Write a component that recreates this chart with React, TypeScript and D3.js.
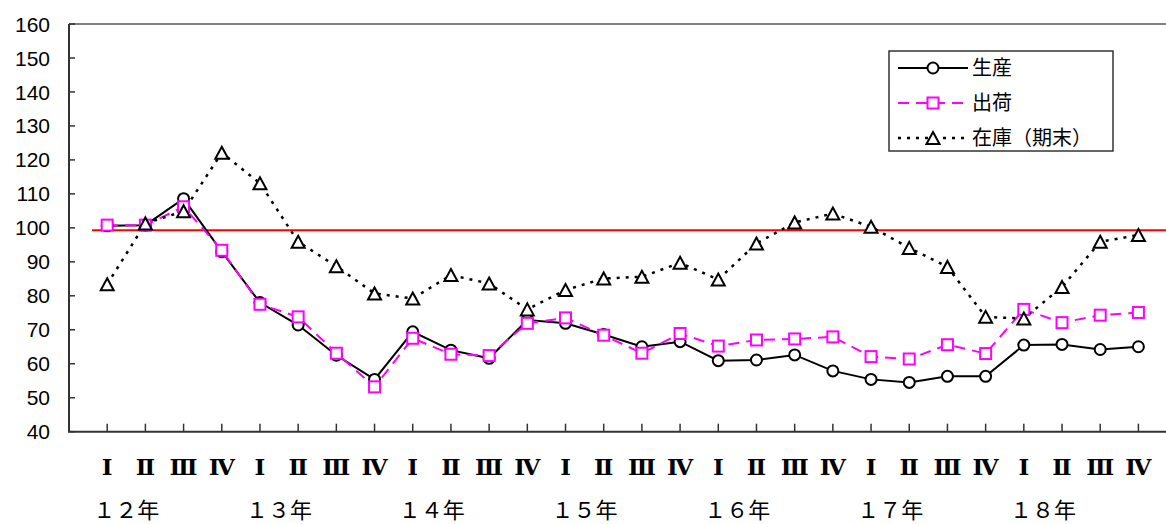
import React from "react";
import * as d3 from "d3";

const quarters = ["Ⅰ", "Ⅱ", "Ⅲ", "Ⅳ"];
const years = ["１２年", "１３年", "１４年", "１５年", "１６年", "１７年", "１８年"];
const categories: string[] = years.flatMap((y) => quarters.map((q) => y + q));

const production = [100.6, 100.8, 108.6, 93, 78, 71.4, 62.5, 55.4, 69.4, 64.0, 61.6, 72.9, 71.9, 68.6, 65.0, 66.5, 60.9, 61.1, 62.6, 57.9, 55.4, 54.5, 56.3, 56.3, 65.5, 65.7, 64.2, 65.0];
const shipments = [100.8, 100.8, 106.2, 93.4, 77.5, 73.8, 63.1, 53.2, 67.5, 62.8, 62.4, 71.9, 73.5, 68.4, 63.1, 68.9, 65.2, 67.0, 67.3, 67.9, 62.1, 61.4, 65.6, 63.0, 76.0, 72.1, 74.3, 75.1];
const inventory = [83.4, 101.3, 104.9, 122.1, 113.1, 95.9, 88.7, 80.7, 79.2, 86.1, 83.6, 76.0, 81.7, 85.1, 85.6, 89.7, 84.8, 95.4, 101.6, 104.2, 100.3, 94.1, 88.5, 73.8, 73.3, 82.6, 95.9, 97.9];
const yTicks = [40, 50, 60, 70, 80, 90, 100, 110, 120, 130, 140, 150, 160];
const referenceLine = 99.3;
const legendLabels = ["生産", "出荷", "在庫（期末）"];

const W = 1166;
const H = 524;
const left = 69;
const top = 24;
const bottom = 431.7;

const x = d3.scalePoint<number>().domain(d3.range(categories.length)).range([left, 1176.6]).padding(1);
const y = d3.scaleLinear().domain([40, 160]).range([bottom, top]);

const tri = "M0,-6L6.5,6L-6.5,6Z";

function Marker({ kind, cx, cy }: { kind: string; cx: number; cy: number }) {
  if (kind === "circle")
    return <circle cx={cx} cy={cy} r={5.5} fill="#fff" stroke="#000" strokeWidth={2} />;
  if (kind === "square")
    return <rect x={cx - 5.5} y={cy - 5.5} width={11} height={11} fill="#fff" stroke="#ff00ff" strokeWidth={2} />;
  return <path d={tri} transform={`translate(${cx},${cy})`} fill="#fff" stroke="#000" strokeWidth={2} />;
}

const series = [
  { data: production, color: "#000", dash: undefined as string | undefined, width: 2, kind: "circle" },
  { data: shipments, color: "#ff00ff", dash: "11,7", width: 2, kind: "square" },
  { data: inventory, color: "#000", dash: "3,6", width: 2.5, kind: "triangle" },
];

export default function App() {
  const line = d3
    .line<number>()
    .x((_, i) => x(i) as number)
    .y((d) => y(d));
  return (
    <svg width={W} height={H} style={{ position: "absolute", left: 0, top: 0, background: "#fff" }}>
      {/* top border */}
      <line x1={left} x2={W} y1={top} y2={top} stroke="#808080" strokeWidth={2} />
      {/* y axis */}
      <line x1={left} x2={left} y1={top} y2={bottom} stroke="#333" strokeWidth={2} />
      {yTicks.map((t) => (
        <g key={t}>
          <line x1={left} x2={left + 6} y1={y(t)} y2={y(t)} stroke="#333" strokeWidth={1.5} />
          <text x={50} y={y(t)} dy="0.36em" textAnchor="end" fontFamily="Liberation Sans, Arial" fontSize={21} fill="#000">
            {t}
          </text>
        </g>
      ))}
      {/* x axis */}
      <line x1={left - 1} x2={W} y1={bottom} y2={bottom} stroke="#333" strokeWidth={2} />
      {categories.map((c, i) => (
        <g key={c}>
          <line x1={x(i)} x2={x(i)} y1={bottom} y2={bottom - 8} stroke="#333" strokeWidth={1.5} />
          <text x={x(i)} y={475} textAnchor="middle" fontFamily="DejaVu Serif, Liberation Serif" fontWeight="bold" fontSize={23} fill="#000">
            {quarters[i % 4]}
          </text>
        </g>
      ))}
      {years.map((yr, k) => (
        <text
          key={yr}
          x={((x(k * 4) as number) + (x(k * 4 + 1) as number)) / 2}
          y={518}
          textAnchor="middle"
          fontFamily="Noto Sans CJK JP"
          fontSize={22}
          fill="#000"
        >
          {yr}
        </text>
      ))}
      {/* reference line */}
      <line x1={92} x2={W} y1={y(referenceLine)} y2={y(referenceLine)} stroke="#ff0000" strokeWidth={2} />
      {/* series */}
      {series.map((s, si) => (
        <path key={si} d={line(s.data) || ""} fill="none" stroke={s.color} strokeWidth={s.width} strokeDasharray={s.dash} />
      ))}
      {series.map((s, si) => (
        <g key={"m" + si}>
          {s.data.map((v, i) => (
            <Marker key={i} kind={s.kind} cx={x(i) as number} cy={y(v)} />
          ))}
        </g>
      ))}
      {/* legend */}
      <rect x={889} y={51} width={224} height={100} fill="#fff" stroke="#333" strokeWidth={1.5} />
      {series.map((s, si) => {
        const ly = 68 + si * 35;
        return (
          <g key={"l" + si}>
            <line x1={898} x2={968} y1={ly} y2={ly} stroke={s.color} strokeWidth={s.width} strokeDasharray={s.dash} />
            <Marker kind={s.kind} cx={933} cy={ly} />
            <text x={972} y={ly} dy="0.36em" fontFamily="Noto Sans CJK JP" fontSize={20} fill="#000">
              {legendLabels[si]}
            </text>
          </g>
        );
      })}
    </svg>
  );
}
